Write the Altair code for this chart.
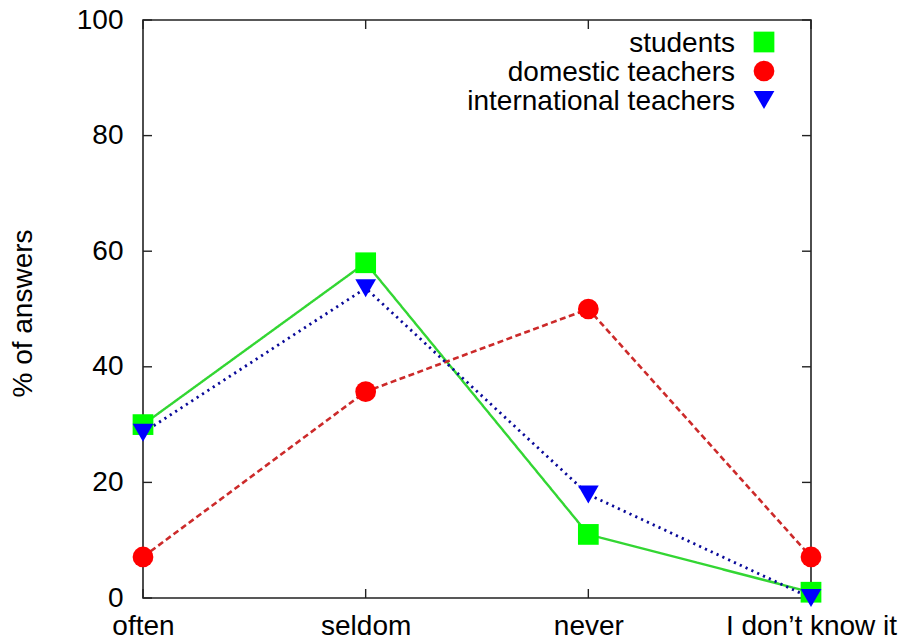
import altair as alt
import pandas as pd

# Survey answers, percent of respondents per answer category
categories = ["often", "seldom", "never", "I don’t know it"]
series_names = ["students", "domestic teachers", "international teachers"]
students = [30.0, 58.0, 11.0, 1.0]
domestic_teachers = [7.1, 35.7, 50.0, 7.1]
international_teachers = [28.6, 53.6, 17.9, 0.0]
y_ticks = [0, 20, 40, 60, 80, 100]

series_values = [students, domestic_teachers, international_teachers]

# Per-series styling: line colour, marker colour, dash pattern, marker shape
styles = {
    "students": dict(line="#33d633", marker="#00ff00", dash=[1, 0], shape="square", width=2.4),
    "domestic teachers": dict(line="#cc2a2a", marker="#ff0000", dash=[6, 3.5], shape="circle", width=2.6),
    "international teachers": dict(line="#0a0a99", marker="#0000ff", dash=[2.2, 4.2], shape="triangle-down", width=2.8),
}

rows = []
for name, vals in zip(series_names, series_values):
    for cat, v in zip(categories, vals):
        rows.append({"series": name, "category": cat, "value": v})
df = pd.DataFrame(rows)

FONT = "Liberation Sans"
FS = 28
W, H = 668, 578
TICK = 9

x_enc = alt.X(
    "category:O",
    sort=categories,
    scale=alt.Scale(type="point", padding=0),
    axis=alt.Axis(
        title=None, labelAngle=0, tickSize=0, domain=False, grid=False,
        labelFont=FONT, labelFontSize=FS, labelColor="black", labelPadding=14,
    ),
)
y_enc = alt.Y(
    "value:Q",
    scale=alt.Scale(domain=[0, 100], nice=False, zero=True),
    axis=alt.Axis(
        title="% of answers", values=y_ticks, tickSize=0, domain=False, grid=False,
        labelFont=FONT, labelFontSize=FS, labelColor="black", labelPadding=20,
        titleFont=FONT, titleFontSize=FS, titleFontWeight="normal", titleColor="black",
        titleAngle=270, titleX=-120, titleY=293, titleAlign="center", titleBaseline="middle",
    ),
)

layers = []

# Inward tick marks on all four sides of the frame
ytick_df = pd.DataFrame({"value": y_ticks})
xtick_df = pd.DataFrame({"category": categories})
for x0, x1 in [(0, TICK), (W - TICK, W)]:
    layers.append(
        alt.Chart(ytick_df).mark_rule(color="#222222", strokeWidth=1.4)
        .encode(y=y_enc, x=alt.value(x0), x2=alt.value(x1))
    )
for y0, y1 in [(H - TICK, H), (0, TICK)]:
    layers.append(
        alt.Chart(xtick_df).mark_rule(color="#222222", strokeWidth=1.4)
        .encode(x=x_enc, y=alt.value(y0), y2=alt.value(y1))
    )

# Data lines and markers, one series at a time so later ones sit on top
for name in series_names:
    st = styles[name]
    sub = df[df["series"] == name]
    layers.append(
        alt.Chart(sub).mark_line(
            color=st["line"], strokeWidth=st["width"], strokeDash=st["dash"]
        ).encode(x=x_enc, y=y_enc)
    )
for name in series_names:
    st = styles[name]
    sub = df[df["series"] == name]
    layers.append(
        alt.Chart(sub).mark_point(
            shape=st["shape"], filled=True, fill=st["marker"], color=st["marker"],
            opacity=1, size=430, strokeWidth=0,
        ).encode(x=x_enc, y=y_enc)
    )

# Key in the upper right corner: label text followed by its marker
legend_rows = [23, 52, 81]
for name, ry in zip(series_names, legend_rows):
    st = styles[name]
    layers.append(
        alt.Chart(pd.DataFrame({"series": [name]})).mark_text(
            font=FONT, fontSize=FS, color="black", align="right", baseline="middle"
        ).encode(text="series:N", x=alt.value(592), y=alt.value(ry + 1))
    )
    layers.append(
        alt.Chart(pd.DataFrame({"series": [name]})).mark_point(
            shape=st["shape"], filled=True, fill=st["marker"], color=st["marker"],
            opacity=1, size=430, strokeWidth=0,
        ).encode(x=alt.value(621), y=alt.value(ry - 1))
    )

chart = alt.layer(*layers).properties(
    width=W,
    height=H,
    autosize=alt.AutoSizeParams(type="none"),
    padding={"left": 143, "top": 20, "right": 95, "bottom": 45},
    background="white",
).configure_view(stroke="#222222", strokeWidth=1.6)

chart.save("out.html", embed_options={"renderer": "svg", "actions": False})
